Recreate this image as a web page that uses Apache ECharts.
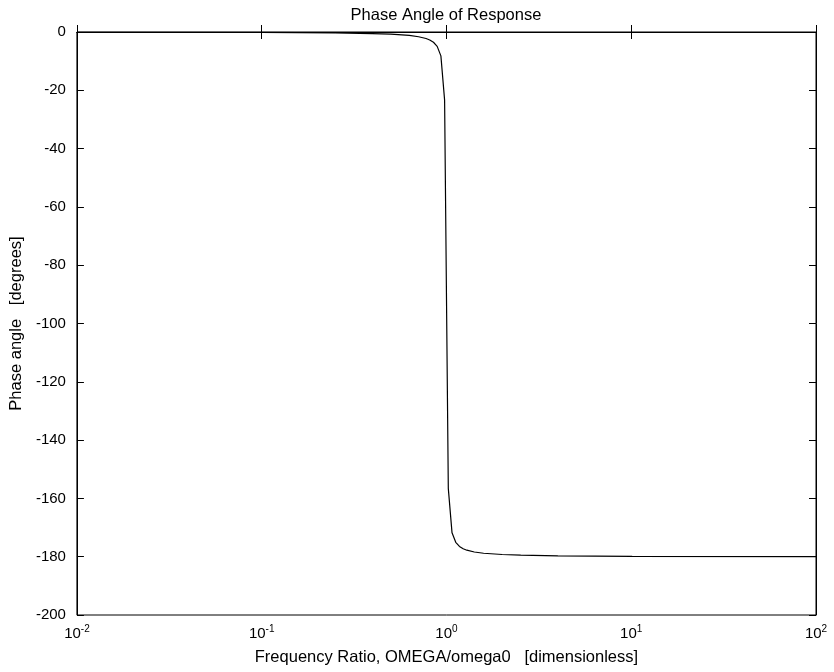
<!DOCTYPE html>
<html>
<head>
<meta charset="utf-8">
<script src="https://cdn.jsdelivr.net/npm/echarts@6/dist/echarts.min.js"></script>
<style>
html,body{margin:0;padding:0;background:#fff;}
#chart{width:834px;height:672px;}
</style>
</head>
<body>
<div id="chart"></div>
<script>
// Data
const freqRatio = [0.01, 0.0989, 0.2495, 0.3963, 0.4995, 0.6295, 0.7067, 0.7754, 0.8121, 0.8505, 0.8908, 0.9330, 0.9771,
                   1.0234, 1.0719, 1.1226, 1.1758, 1.2314, 1.2897, 1.4150, 1.5886, 2.0021, 2.5235, 4.0087, 10.116, 100];
const phaseDeg  = [-0.01, -0.11, -0.30, -0.54, -0.76, -1.19, -1.62, -2.23, -2.73, -3.52, -4.93, -8.19, -23.36,
                   -156.64, -171.81, -175.07, -176.48, -177.27, -177.77, -178.38, -178.81, -179.24, -179.46, -179.70, -179.89, -179.99];
const xTickExponents = [-2, -1, 0, 1, 2];
const yTicks = [-200, -180, -160, -140, -120, -100, -80, -60, -40, -20, 0];

const titleText = 'Phase Angle of Response';
const xName = 'Frequency Ratio, OMEGA/omega0   [dimensionless]';
const yName = 'Phase angle   [degrees]';

const FONT = 'Liberation Sans, Arial, Helvetica, sans-serif';
const FS = 15;
const FS_LABEL = 16.5;

const chart = echarts.init(document.getElementById('chart'), null, {renderer: 'canvas'});

const gridLeft = 76, gridRight = 18, gridTop = 32, gridBottom = 57;
const plotCenterX = gridLeft + (834 - gridLeft - gridRight) / 2;

const data = freqRatio.map((r, i) => [r, phaseDeg[i]]);

function expLabel(v) {
  const e = Math.round(Math.log10(v));
  if (xTickExponents.indexOf(e) < 0) return '';
  return '{b|10}{s|' + e + '}';
}

const tickStyle = {show: true, inside: true, length: 7, lineStyle: {color: '#000', width: 1}};

chart.setOption({
  animation: false,
  backgroundColor: '#fff',
  textStyle: {fontFamily: FONT},
  grid: {left: gridLeft, right: gridRight, top: gridTop, bottom: gridBottom, show: true, borderColor: '#000', borderWidth: 1},
  graphic: [{
    type: 'text', x: plotCenterX, y: 15,
    style: {text: titleText, font: FS_LABEL + 'px ' + FONT, fill: '#000', align: 'center', verticalAlign: 'middle'}
  }],
  xAxis: [{
    type: 'log', logBase: 10, min: Math.pow(10, xTickExponents[0]), max: Math.pow(10, xTickExponents[xTickExponents.length - 1]),
    splitNumber: 4, position: 'bottom',
    name: xName, nameLocation: 'middle', nameGap: 34,
    nameTextStyle: {fontSize: FS_LABEL, color: '#000', fontFamily: FONT},
    axisLine: {show: true, lineStyle: {color: '#000', width: 1}},
    axisTick: tickStyle, minorTick: {show: false}, splitLine: {show: false},
    axisLabel: {
      margin: 9, color: '#000', formatter: expLabel,
      rich: {
        b: {fontSize: FS, fontFamily: FONT, color: '#000'},
        s: {fontSize: 10, fontFamily: FONT, color: '#000', padding: [0, 0, 9, 0]}
      }
    }
  }, {
    type: 'log', logBase: 10, min: Math.pow(10, xTickExponents[0]), max: Math.pow(10, xTickExponents[xTickExponents.length - 1]),
    splitNumber: 4, position: 'top',
    axisLine: {show: true, lineStyle: {color: '#000', width: 1}},
    axisTick: tickStyle, splitLine: {show: false}, axisLabel: {show: false}
  }],
  yAxis: [{
    type: 'value', min: yTicks[0], max: yTicks[yTicks.length - 1], interval: yTicks[1] - yTicks[0], position: 'left',
    name: yName, nameLocation: 'middle', nameGap: 46,
    nameTextStyle: {fontSize: FS_LABEL, color: '#000', fontFamily: FONT},
    axisLine: {show: true, lineStyle: {color: '#000', width: 1}},
    axisTick: tickStyle, splitLine: {show: false},
    axisLabel: {margin: 11, color: '#000', fontSize: FS, fontFamily: FONT}
  }, {
    type: 'value', min: yTicks[0], max: yTicks[yTicks.length - 1], interval: yTicks[1] - yTicks[0], position: 'right',
    axisLine: {show: true, lineStyle: {color: '#000', width: 1}},
    axisTick: tickStyle, splitLine: {show: false}, axisLabel: {show: false}
  }],
  series: [{
    type: 'line', xAxisIndex: 0, yAxisIndex: 0, data: data,
    showSymbol: false, smooth: false,
    lineStyle: {color: '#000', width: 1.2}
  }]
});
</script>
</body>
</html>
